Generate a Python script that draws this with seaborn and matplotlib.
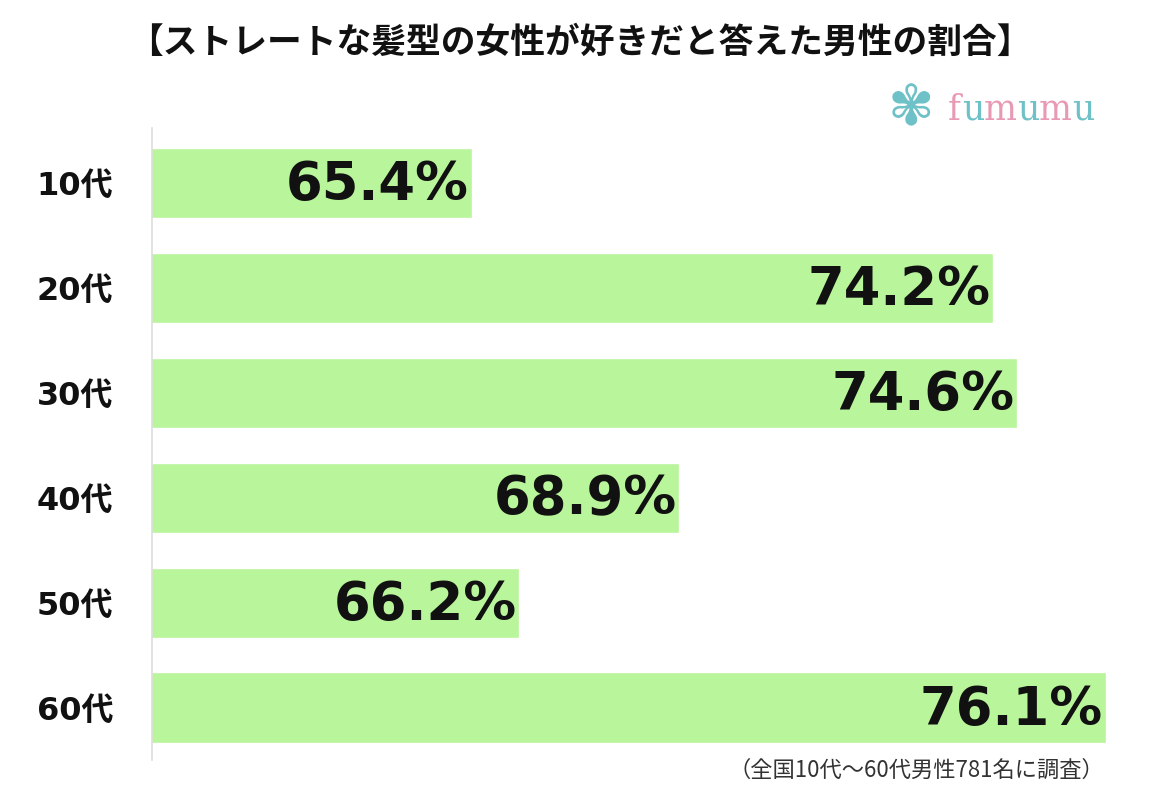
import matplotlib
matplotlib.use("Agg")
import matplotlib.pyplot as plt
import seaborn as sns
import pandas as pd

categories = ["10代", "20代", "30代", "40代", "50代", "60代"]
values = [65.4, 74.2, 74.6, 68.9, 66.2, 76.1]
value_labels = ["65.4%", "74.2%", "74.6%", "68.9%", "66.2%", "76.1%"]
title = "【ストレートな髪型の女性が好きだと答えた男性の割合】"
footnote = "（全国10代～60代男性781名に調査）"

sns.set_theme(style="white")
plt.rcParams['font.family'] = ['Noto Sans CJK JP', 'DejaVu Sans']

df = pd.DataFrame({"age": categories, "pct": values})

fig = plt.figure(figsize=(11.54, 8), dpi=100)
ax = fig.add_axes([152/1154, 1-760/800, (1112-152)/1154, (760-128)/800])

sns.barplot(data=df, y="age", x="pct", orient="h", color="#b9f59a",
            saturation=1, width=0.667, ax=ax, order=categories)
ax.set_xlim(60, 76.2)
ax.set_ylim(5.5, -0.52)

for i, (v, lab) in enumerate(zip(values, value_labels)):
    ax.text(v - 0.05, i + 0.02, lab, ha="right", va="center", fontsize=38,
            fontweight="bold", color="#111111", family=['DejaVu Sans'])

ax.set_xlabel("")
ax.set_ylabel("")
ax.set_xticks([])
ax.tick_params(axis="y", length=0, pad=28)
for t in ax.get_yticklabels():
    t.set_fontsize(23)
    t.set_fontweight("bold")
    t.set_color("#111111")
    t.set_family(['DejaVu Sans', 'Noto Sans CJK JP'])
for s in ["top", "right", "bottom"]:
    ax.spines[s].set_visible(False)
ax.spines["left"].set_color("#dddddd")
ax.spines["left"].set_linewidth(1.2)

fig.text(580/1154, 1-42/800, title, ha="center", va="center", fontsize=25,
         fontweight="bold", color="#111111")
fig.text(1104/1154, 1-770/800, footnote, ha="right", va="center", fontsize=16,
         color="#333333")

# logo
logo_letters = ["f", "u", "m", "u", "m", "u"]
logo_colors = ["#e89ab5", "#6fc1c8", "#e89ab5", "#6fc1c8", "#e89ab5", "#6fc1c8"]
xpos = 948
widths = {"f": 14, "u": 22, "m": 33}
for ch, c in zip(logo_letters, logo_colors):
    fig.text(xpos/1154, 1-110/800, ch, ha="left", va="center", fontsize=25,
             color=c, family=['DejaVu Serif'])
    xpos += widths[ch]
fig.text(911/1154, 1-110/800, "✾", ha="center", va="center", fontsize=40,
         color="#6fc1c8", family=['DejaVu Sans'])

fig.savefig("out.png", dpi=100, facecolor="white")
